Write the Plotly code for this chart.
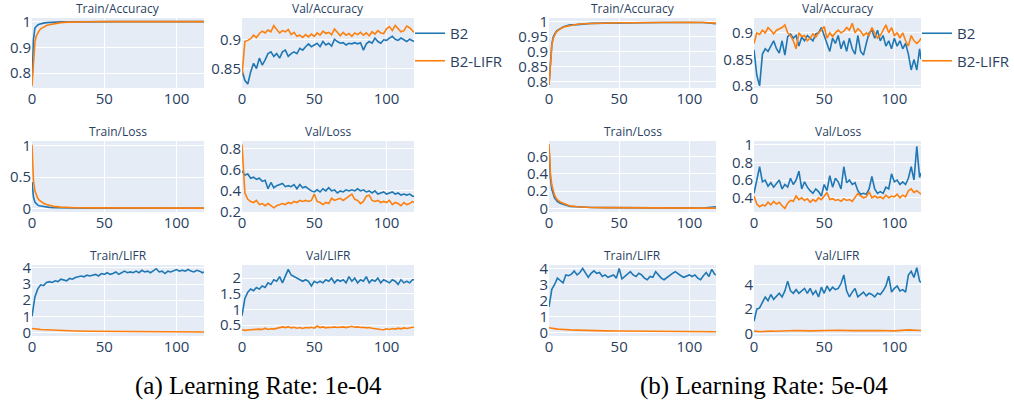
import plotly.graph_objects as go

# ---------------- data ----------------
EPOCHS_DENSE = list(range(0, 120, 2)) + [119]
EPOCHS_SPARSE = [0, 1, 2, 3, 4, 5, 6, 8, 10, 12, 15, 20, 25, 30, 40, 50, 60, 70, 80, 90, 100, 110, 119]
SERIES_NAMES = ["B2", "B2-LIFR"]
SUBPLOT_TITLES = ["Train/Accuracy", "Val/Accuracy", "Train/Loss", "Val/Loss", "Train/LIFR", "Val/LIFR"]
CAPTIONS = ["(a) Learning Rate: 1e-04", "(b) Learning Rate: 5e-04"]

# ----- (a) lr 1e-04 -----
A_TRAIN_ACC_B2 = [0.76, 0.93, 0.975, 0.983, 0.987, 0.99, 0.992, 0.994, 0.996, 0.997, 0.998, 0.999, 0.999, 0.9995, 1, 1, 1, 1, 1, 1, 1, 1, 1]
A_TRAIN_ACC_LIFR = [0.75, 0.86, 0.92, 0.945, 0.958, 0.965, 0.972, 0.98, 0.985, 0.988, 0.992, 0.996, 0.998, 0.999, 0.9995, 1, 1, 1, 1, 1, 1, 1, 1]
A_VAL_ACC_B2 = [0.847, 0.829, 0.823, 0.844, 0.859, 0.850, 0.868, 0.856, 0.865, 0.876, 0.879, 0.871, 0.876, 0.868, 0.879, 0.882,
                0.871, 0.876, 0.879, 0.876, 0.885, 0.882, 0.888, 0.893, 0.888, 0.891, 0.894, 0.888, 0.897, 0.891, 0.894, 0.889,
                0.901, 0.897, 0.894, 0.895, 0.891, 0.894, 0.893, 0.895, 0.893, 0.895, 0.882, 0.893, 0.897, 0.894, 0.903, 0.897,
                0.894, 0.900, 0.899, 0.903, 0.906, 0.901, 0.899, 0.903, 0.900, 0.897, 0.901, 0.899, 0.897]
A_VAL_ACC_LIFR = [0.838, 0.897, 0.899, 0.902, 0.908, 0.904, 0.911, 0.915, 0.912, 0.917, 0.914, 0.925, 0.918, 0.912, 0.916, 0.914,
                  0.918, 0.909, 0.913, 0.906, 0.908, 0.904, 0.909, 0.905, 0.910, 0.906, 0.912, 0.908, 0.915, 0.911, 0.913, 0.909,
                  0.919, 0.912, 0.907, 0.913, 0.908, 0.911, 0.906, 0.912, 0.909, 0.913, 0.908, 0.912, 0.907, 0.914, 0.910, 0.916,
                  0.912, 0.911, 0.919, 0.923, 0.916, 0.925, 0.919, 0.914, 0.916, 0.924, 0.921, 0.916, 0.913]
A_TRAIN_LOSS_B2 = [0.42, 0.18, 0.1, 0.07, 0.05, 0.04, 0.035, 0.025, 0.02, 0.015, 0.01, 0.007, 0.005, 0.004, 0.003, 0.002, 0.002, 0.002, 0.001, 0.001, 0.001, 0.001, 0.001]
A_TRAIN_LOSS_LIFR = [1.02, 0.45, 0.28, 0.2, 0.16, 0.13, 0.11, 0.08, 0.06, 0.045, 0.03, 0.018, 0.012, 0.009, 0.006, 0.004, 0.003, 0.003, 0.002, 0.002, 0.002, 0.002, 0.002]
A_VAL_LOSS_B2 = [0.59, 0.55, 0.56, 0.52, 0.53, 0.51, 0.52, 0.49, 0.50, 0.42, 0.48, 0.43, 0.45, 0.46, 0.47, 0.44,
                 0.45, 0.44, 0.46, 0.42, 0.46, 0.43, 0.44, 0.42, 0.40, 0.39, 0.41, 0.39, 0.42, 0.40, 0.43, 0.40,
                 0.41, 0.38, 0.40, 0.39, 0.41, 0.40, 0.41, 0.40, 0.42, 0.40, 0.41, 0.39, 0.40, 0.38, 0.40, 0.37,
                 0.38, 0.39, 0.37, 0.38, 0.39, 0.37, 0.38, 0.36, 0.37, 0.36, 0.37, 0.35, 0.35]
A_VAL_LOSS_LIFR = [0.84, 0.38, 0.32, 0.30, 0.29, 0.31, 0.27, 0.28, 0.26, 0.28, 0.26, 0.24, 0.26, 0.27, 0.28, 0.27,
                   0.29, 0.28, 0.30, 0.29, 0.31, 0.30, 0.31, 0.30, 0.31, 0.37, 0.30, 0.29, 0.27, 0.29, 0.28, 0.33,
                   0.31, 0.32, 0.33, 0.31, 0.33, 0.35, 0.37, 0.32, 0.31, 0.28, 0.30, 0.35, 0.36, 0.31, 0.30, 0.31,
                   0.29, 0.30, 0.29, 0.31, 0.27, 0.29, 0.28, 0.26, 0.29, 0.27, 0.28, 0.30, 0.29]
A_TRAIN_LIFR_B2 = [1.0, 2.2, 2.7, 2.95, 2.9, 3.1, 3.15, 3.1, 3.2, 3.15, 3.3, 3.25, 3.2, 3.35, 3.3, 3.4,
                   3.45, 3.5, 3.45, 3.55, 3.5, 3.55, 3.6, 3.5, 3.65, 3.6, 3.7, 3.6, 3.65, 3.75, 3.6, 3.7,
                   3.8, 3.7, 3.75, 3.7, 3.8, 3.7, 3.85, 3.75, 3.8, 3.7, 3.8, 3.95, 3.75, 3.8, 3.65, 3.8,
                   3.75, 3.85, 3.9, 3.8, 3.85, 3.8, 3.9, 3.8, 3.75, 3.85, 3.8, 3.7, 3.75]
A_TRAIN_LIFR_LIFR = [0.25, 0.23, 0.22, 0.21, 0.2, 0.19, 0.18, 0.17, 0.16, 0.15, 0.13, 0.11, 0.1, 0.09, 0.07, 0.06, 0.05, 0.05, 0.05, 0.05, 0.04, 0.03, 0.03]
A_VAL_LIFR_B2 = [0.8, 1.35, 1.55, 1.65, 1.6, 1.7, 1.65, 1.75, 1.7, 1.85, 1.8, 1.95, 1.9, 2.05, 1.85, 2.05,
                 2.28, 2.1, 2.05, 2.0, 1.95, 1.9, 1.95, 1.9, 1.75, 1.9, 1.85, 1.9, 1.85, 1.95, 1.9, 2.0,
                 1.85, 1.95, 1.9, 1.95, 1.85, 2.05, 1.9, 2.0, 1.85, 1.95, 1.9, 2.05, 1.85, 1.95, 1.9, 2.0,
                 1.85, 1.95, 1.9, 1.85, 1.95, 1.9, 1.8, 1.95, 1.85, 1.9, 1.85, 1.95, 1.95]
A_VAL_LIFR_LIFR = [0.35, 0.33, 0.34, 0.35, 0.36, 0.35, 0.37, 0.36, 0.40, 0.36, 0.38, 0.37, 0.40, 0.42, 0.44, 0.42,
                   0.45, 0.41, 0.43, 0.40, 0.42, 0.39, 0.42, 0.41, 0.43, 0.40, 0.47, 0.42, 0.44, 0.41, 0.43, 0.42,
                   0.44, 0.42, 0.43, 0.44, 0.42, 0.44, 0.46, 0.43, 0.44, 0.42, 0.43, 0.41, 0.42, 0.40, 0.38, 0.37,
                   0.36, 0.35, 0.38, 0.36, 0.39, 0.37, 0.40, 0.38, 0.41, 0.39, 0.42, 0.45, 0.44]

# ----- (b) lr 5e-04 -----
B_TRAIN_ACC_B2 = [0.79, 0.88, 0.925, 0.95, 0.96, 0.967, 0.972, 0.978, 0.983, 0.986, 0.99, 0.991, 0.993, 0.995, 0.996, 0.997, 0.997, 0.998, 0.998, 0.998, 0.998, 0.998, 0.994]
B_TRAIN_ACC_LIFR = [0.79, 0.875, 0.92, 0.945, 0.958, 0.965, 0.97, 0.977, 0.982, 0.985, 0.988, 0.992, 0.994, 0.995, 0.996, 0.997, 0.997, 0.998, 0.998, 0.998, 0.999, 0.998, 0.996]
B_VAL_ACC_B2 = [0.868, 0.82, 0.80, 0.86, 0.87, 0.865, 0.875, 0.885, 0.87, 0.862, 0.885, 0.858, 0.893, 0.898, 0.89, 0.895,
                0.875, 0.892, 0.885, 0.895, 0.89, 0.885, 0.898, 0.9, 0.91, 0.895, 0.88, 0.865, 0.89, 0.88, 0.895, 0.87,
                0.885, 0.865, 0.89, 0.87, 0.86, 0.895, 0.865, 0.858, 0.88, 0.9, 0.905, 0.89, 0.905, 0.885, 0.895, 0.875,
                0.885, 0.87, 0.89, 0.875, 0.885, 0.87, 0.88, 0.86, 0.83, 0.85, 0.83, 0.87, 0.85]
B_VAL_ACC_LIFR = [0.88, 0.9, 0.897, 0.905, 0.9, 0.91, 0.905, 0.898, 0.905, 0.908, 0.91, 0.915, 0.9, 0.895, 0.885, 0.87,
                  0.9, 0.893, 0.895, 0.885, 0.89, 0.898, 0.892, 0.9, 0.905, 0.912, 0.89, 0.9, 0.893, 0.9, 0.905, 0.9,
                  0.903, 0.91, 0.905, 0.918, 0.9, 0.908, 0.903, 0.895, 0.9, 0.895, 0.91, 0.9, 0.89, 0.895, 0.905, 0.915,
                  0.9, 0.91, 0.895, 0.9, 0.89, 0.9, 0.885, 0.875, 0.895, 0.885, 0.88, 0.885, 0.89]
B_TRAIN_LOSS_B2 = [0.7, 0.35, 0.22, 0.16, 0.12, 0.1, 0.08, 0.06, 0.05, 0.035, 0.025, 0.02, 0.015, 0.012, 0.01, 0.008, 0.006, 0.005, 0.004, 0.004, 0.004, 0.004, 0.02]
B_TRAIN_LOSS_LIFR = [0.74, 0.4, 0.27, 0.2, 0.15, 0.12, 0.1, 0.075, 0.06, 0.045, 0.03, 0.02, 0.015, 0.012, 0.01, 0.008, 0.006, 0.005, 0.004, 0.004, 0.003, 0.004, 0.005]
B_VAL_LOSS_B2 = [0.45, 0.62, 0.75, 0.58, 0.6, 0.53, 0.57, 0.52, 0.56, 0.6, 0.5, 0.55, 0.52, 0.62, 0.55, 0.6,
                 0.7, 0.5, 0.58, 0.52, 0.48, 0.45, 0.5, 0.47, 0.42, 0.55, 0.48, 0.65, 0.52, 0.62, 0.58, 0.5,
                 0.75, 0.57, 0.6, 0.55, 0.57, 0.48, 0.44, 0.45, 0.44, 0.5, 0.64, 0.5, 0.45, 0.47, 0.45, 0.52,
                 0.5, 0.67, 0.58, 0.6, 0.55, 0.58, 0.55, 0.62, 0.75, 0.6, 0.98, 0.63, 0.68]
B_VAL_LOSS_LIFR = [0.42, 0.33, 0.3, 0.32, 0.31, 0.35, 0.32, 0.36, 0.33, 0.35, 0.31, 0.28, 0.34, 0.37, 0.36, 0.42,
                   0.38, 0.40, 0.37, 0.39, 0.35, 0.38, 0.36, 0.40, 0.38, 0.42, 0.46, 0.38, 0.39, 0.37, 0.38, 0.36,
                   0.39, 0.37, 0.38, 0.36, 0.40, 0.45, 0.42, 0.40, 0.41, 0.47, 0.40, 0.42, 0.40, 0.41, 0.39, 0.43,
                   0.40, 0.42, 0.41, 0.44, 0.40, 0.43, 0.41, 0.48, 0.50, 0.46, 0.48, 0.45, 0.44]
B_TRAIN_LIFR_B2 = [1.6, 2.7, 3.0, 3.4, 3.25, 3.1, 3.6, 3.55, 3.65, 3.85, 3.6, 3.75, 4.0, 3.7, 3.45, 3.7,
                   3.85, 3.7, 3.75, 3.5, 3.6, 3.45, 3.55, 3.6, 3.4, 4.0, 3.35, 3.5, 3.7, 3.8, 3.6, 3.5,
                   3.7, 3.6, 3.4, 3.3, 3.5, 3.45, 3.8, 3.6, 3.4, 3.3, 3.45, 3.6, 3.7, 3.8, 3.65, 3.55,
                   3.45, 3.55, 3.6, 3.5, 3.6, 3.4, 3.3, 3.55, 3.75, 3.5, 3.95, 3.65, 3.6]
B_TRAIN_LIFR_LIFR = [0.3, 0.28, 0.26, 0.25, 0.24, 0.22, 0.21, 0.2, 0.18, 0.17, 0.16, 0.15, 0.13, 0.12, 0.1, 0.09, 0.08, 0.08, 0.07, 0.07, 0.06, 0.06, 0.05]
B_VAL_LIFR_B2 = [1.0, 2.0, 2.1, 2.6, 3.0, 2.7, 3.2, 2.8, 3.1, 3.3, 3.0, 3.5, 4.3, 3.5, 3.3, 3.6,
                 3.3, 3.5, 3.7, 3.3, 3.7, 3.2, 3.5, 3.0, 3.8, 3.3, 3.9, 3.5, 3.8, 3.6, 3.7, 4.1,
                 4.8, 3.5, 3.0, 3.4, 3.7, 3.0, 3.2, 3.4, 3.1, 3.3, 3.2, 3.0, 3.3, 3.2, 3.5, 3.9,
                 4.7, 3.4, 3.7, 3.9, 3.5, 3.6, 3.4, 4.8, 5.1, 4.6, 5.4, 4.3, 4.2]
B_VAL_LIFR_LIFR = [0.2, 0.18, 0.17, 0.18, 0.16, 0.15, 0.17, 0.16, 0.18, 0.2, 0.19, 0.22, 0.2, 0.25, 0.22, 0.25, 0.27, 0.24, 0.26, 0.25, 0.22, 0.3, 0.25]

PANEL_A = [
    (EPOCHS_SPARSE, A_TRAIN_ACC_B2, EPOCHS_SPARSE, A_TRAIN_ACC_LIFR),
    (EPOCHS_DENSE, A_VAL_ACC_B2, EPOCHS_DENSE, A_VAL_ACC_LIFR),
    (EPOCHS_SPARSE, A_TRAIN_LOSS_B2, EPOCHS_SPARSE, A_TRAIN_LOSS_LIFR),
    (EPOCHS_DENSE, A_VAL_LOSS_B2, EPOCHS_DENSE, A_VAL_LOSS_LIFR),
    (EPOCHS_DENSE, A_TRAIN_LIFR_B2, EPOCHS_SPARSE, A_TRAIN_LIFR_LIFR),
    (EPOCHS_DENSE, A_VAL_LIFR_B2, EPOCHS_DENSE, A_VAL_LIFR_LIFR),
]
PANEL_B = [
    (EPOCHS_SPARSE, B_TRAIN_ACC_B2, EPOCHS_SPARSE, B_TRAIN_ACC_LIFR),
    (EPOCHS_DENSE, B_VAL_ACC_B2, EPOCHS_DENSE, B_VAL_ACC_LIFR),
    (EPOCHS_SPARSE, B_TRAIN_LOSS_B2, EPOCHS_SPARSE, B_TRAIN_LOSS_LIFR),
    (EPOCHS_DENSE, B_VAL_LOSS_B2, EPOCHS_DENSE, B_VAL_LOSS_LIFR),
    (EPOCHS_DENSE, B_TRAIN_LIFR_B2, EPOCHS_SPARSE, B_TRAIN_LIFR_LIFR),
    (EPOCHS_DENSE, B_VAL_LIFR_B2, EPOCHS_SPARSE, B_VAL_LIFR_LIFR),
]

# ---------------- layout / style ----------------
W, H = 1014, 403
COLORS = ["#1f77b4", "#ff7f0e"]
COLS_PX = [[(32, 204), (242, 414)], [(549, 716), (754, 921)]]
ROWS_PX = [(18, 88), (141, 212), (265, 336)]
YRANGES = [
    [(0.742, 1.014), (0.816, 0.938), (-0.06, 1.08), (0.2, 0.873), (-0.22, 4.18), (0.15, 2.42)],
    [(0.78, 1.013), (0.796, 0.928), (-0.04, 0.776), (0.24, 1.04), (-0.22, 4.22), (-0.2, 5.62)],
]
YDTICK = [
    [0.1, 0.05, 0.5, 0.2, 1, 0.5],
    [0.05, 0.05, 0.2, 0.2, 1, 2],
]
LEGEND_X_PX = [410, 917]
TEXT_COLOR = "#2a3f5f"
TICK_SIZE = 15

fig = go.Figure()
layout = {}
annotations = []
axis_n = 0
for p, panel in enumerate([PANEL_A, PANEL_B]):
    for i, (xb, yb, xl, yl) in enumerate(panel):
        axis_n += 1
        r, c = divmod(i, 2)
        x0, x1 = COLS_PX[p][c]
        y0, y1 = ROWS_PX[r]
        suffix = "" if axis_n == 1 else str(axis_n)
        xa, ya = "x" + suffix, "y" + suffix
        legend_name = "legend" if p == 0 else "legend2"
        for s, (xs, ys) in enumerate([(xb, yb), (xl, yl)]):
            fig.add_trace(go.Scatter(
                x=xs, y=ys, mode="lines", name=SERIES_NAMES[s],
                line=dict(color=COLORS[s], width=1.6),
                xaxis=xa, yaxis=ya, legend=legend_name,
                legendgroup=f"{p}-{s}", showlegend=(i == 0),
            ))
        layout["xaxis" + suffix] = dict(
            domain=[x0 / W, x1 / W], anchor=ya, range=[0, 119], dtick=50, tick0=0,
            tickfont=dict(size=TICK_SIZE), ticks="", zeroline=False, automargin=False,
        )
        layout["yaxis" + suffix] = dict(
            domain=[1 - y1 / H, 1 - y0 / H], anchor=xa, range=list(YRANGES[p][i]),
            dtick=YDTICK[p][i], tick0=0, tickfont=dict(size=TICK_SIZE), ticks="", zeroline=False,
            automargin=False,
        )
        annotations.append(dict(
            text=SUBPLOT_TITLES[i], xref="paper", yref="paper",
            x=(x0 + x1) / 2 / W, y=1 - (y0 + 1) / H, xanchor="center", yanchor="bottom",
            showarrow=False, font=dict(size=12, color=TEXT_COLOR),
        ))

for p, cap in enumerate(CAPTIONS):
    cx = [258, 764][p]
    annotations.append(dict(
        text=cap, xref="paper", yref="paper", x=cx / W, y=1 - 386 / H,
        xanchor="center", yanchor="middle", showarrow=False,
        font=dict(size=25, color="black", family="Liberation Serif"),
    ))

for p in range(2):
    key = "legend" if p == 0 else "legend2"
    layout[key] = dict(
        x=LEGEND_X_PX[p] / W, y=1 - 17 / H, xanchor="left", yanchor="top",
        font=dict(size=15, color=TEXT_COLOR), tracegroupgap=5,
        bgcolor="rgba(0,0,0,0)",
    )

fig.update_layout(
    width=W, height=H, margin=dict(l=0, r=0, t=0, b=0, autoexpand=False),
    template="plotly", paper_bgcolor="white", plot_bgcolor="#E5ECF6",
    font=dict(family="Open Sans, verdana, arial, sans-serif", color=TEXT_COLOR),
    annotations=annotations, **layout,
)
fig.write_html(
    "out.html",
    config={"displayModeBar": False},
    post_script="document.body.style.margin='0px';document.body.style.overflow='hidden';",
)
